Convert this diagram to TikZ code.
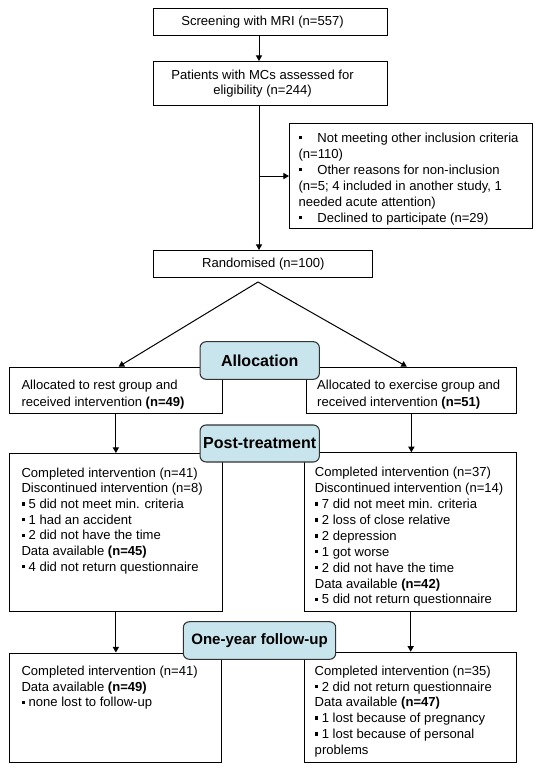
\documentclass[tikz,border=0pt]{standalone}
\usepackage{fontspec}
\setmainfont{Liberation Sans}
\usetikzlibrary{arrows.meta}
\definecolor{lblue}{RGB}{200,228,236}
\definecolor{lborder}{RGB}{50,50,50}
\newcommand\pp[1]{#1*0.75pt}
\newcommand\dd[1]{\dimexpr#1pt*3/4\relax}
\newcommand\sq{\raisebox{2.2pt}{\rule{2.6pt}{2.6pt}}}
\newcommand\st{\rule{0pt}{8pt}}
% centred text: width px, baselineskip, right shift, text
\newcommand\ctr[4]{\parbox{\dd{#1}}{\fontsize{9.8}{#2}\selectfont\leftskip=0pt plus 1fil\rightskip=#3 plus 1fil\parfillskip=0pt\relax #4}}
% top-aligned text: width px, height px, left pad px, baselineskip, top space, text
\newcommand\tbx[6]{\parbox[c][\dd{#2}][t]{\dd{#1}}{\fontsize{9.8}{#4}\selectfont\raggedright\leftskip=\dd{#3}\relax\vspace*{#5}\st#6}}
\tikzset{
  box/.style={draw, line width=0.8pt, inner sep=0pt, anchor=north west, fill=white},
  stage/.style={draw=lborder, line width=0.8pt, fill=lblue, rounded corners=4.5pt, inner sep=0pt,
    font=\fontsize{12}{14}\selectfont\bfseries},
  arr/.style={line width=0.75pt, -{Triangle[length=4.2pt,width=4.6pt]}},
}
\begin{document}
\begin{tikzpicture}[x=0.75pt, y=-0.75pt]
\fill[white] (0,0) rectangle (542,771);
\useasboundingbox (0,0) rectangle (542,771);

\node[box, minimum width=\pp{233.4}, minimum height=\pp{27}] (screen) at (153.3,8)
  {\ctr{233.4}{11.3pt}{12pt}{Screening with MRI (n=557)}};
\node[box, minimum width=\pp{233.4}, minimum height=\pp{44}] (pat) at (153.3,61)
  {\ctr{233.4}{11.3pt}{12pt}{Patients with MCs assessed for\par eligibility (n=244)}};
\node[box] (excl) at (289,123)
  {\tbx{243}{105}{9}{12pt}{5.9pt}{\sq\hspace{11.5pt}Not meeting other inclusion criteria\\(n=110)\\\sq\hspace{11.5pt}Other reasons for non-inclusion\\(n=5; 4 included in another study, 1\\needed acute attention)\\\sq\hspace{11.5pt}Declined to participate (n=29)}};
\node[box, minimum width=\pp{219}, minimum height=\pp{26.7}] (rand) at (153.3,250)
  {\ctr{219}{11.3pt}{0pt}{Randomised (n=100)}};

\node[box] (allocL) at (9,366.7)
  {\tbx{212.7}{46}{12}{13pt}{8.8pt}{Allocated to rest group and\\received intervention \textbf{(n=49)}}};
\node[box] (allocR) at (306,366.7)
  {\tbx{209.7}{46}{10.7}{13pt}{8.8pt}{Allocated to exercise group and\\received intervention \textbf{(n=51)}}};

\node[box] (postL) at (9,453)
  {\tbx{212.7}{158}{12}{11.8pt}{9.6pt}{Completed intervention (n=41)\\Discontinued intervention (n=8)\\\sq\ 5 did not meet min. criteria\\\sq\ 1 had an accident\\\sq\ 2 did not have the time\\Data available \textbf{(n=45)}\\\sq\ 4 did not return questionnaire}};
\node[box] (postR) at (304.3,452.3)
  {\tbx{211.7}{158.7}{10}{11.9pt}{10.1pt}{Completed intervention (n=37)\\Discontinued intervention (n=14)\\\sq\ 7 did not meet min. criteria\\\sq\ 2 loss of close relative\\\sq\ 2 depression\\\sq\ 1 got worse\\\sq\ 2 did not have the time\\Data available \textbf{(n=42)}\\\sq\ 5 did not return questionnaire}};

\node[box] (followL) at (9,652.5)
  {\tbx{212}{109.8}{12}{11.85pt}{8.7pt}{Completed intervention (n=41)\\Data available \textbf{(n=49)}\\\sq\ none lost to follow-up}};
\node[box] (followR) at (304.2,651.7)
  {\tbx{211.5}{110}{10}{11.85pt}{9.3pt}{Completed intervention (n=35)\\\sq\ 2 did not return questionnaire\\Data available \textbf{(n=47)}\\\sq\ 1 lost because of pregnancy\\\sq\ 1 lost because of personal\\problems}};

% connectors
\coordinate (spx) at (259,0);
\coordinate (apex) at (258,282);
\draw[arr] (screen.south -| spx) -- (pat.north -| spx);
\draw[arr] (pat.south -| spx) -- (rand.north -| spx);
\draw[arr] (excl.west -| spx) -- (excl.west);
\draw[line width=0.75pt] (apex) -- (apex);
\draw[arr] (apex) -- ([xshift=\pp{2.7}]allocL.north);
\draw[arr] (apex) -- ([xshift=\pp{-4.5}]allocR.north);
\draw[arr] (allocL.south) -- (allocL.south |- postL.north);
\draw[arr] (allocR.south) -- (allocR.south |- postR.north);
\draw[arr] (postL.south) -- (postL.south |- followL.north);
\draw[arr] (postR.south) -- (postR.south |- followR.north);

% stage labels
\node[stage, minimum width=\pp{119.3}, minimum height=\pp{37.6}] (lalloc) at (259.7,360.5) {Allocation};
\node[stage, minimum width=\pp{119.3}, minimum height=\pp{37}] (lpost) at (259.7,443.5) {Post-treatment};
\node[stage, minimum width=\pp{152.4}, minimum height=\pp{37.6}] (lfollow) at (259.5,640.5) {\fontsize{11.3}{14}\selectfont One-year follow-up};
\end{tikzpicture}
\end{document}
